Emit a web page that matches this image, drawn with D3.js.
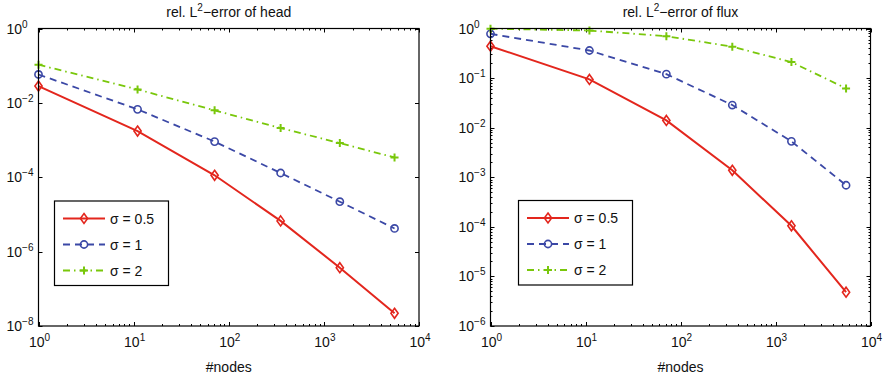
<!DOCTYPE html>
<html>
<head>
<meta charset="utf-8">
<script src="https://cdn.jsdelivr.net/npm/d3@7"></script>
<style>
  html, body { margin: 0; padding: 0; background: #fff; }
  svg { display: block; font-family: "Liberation Sans", Arial, Helvetica, sans-serif; }
</style>
</head>
<body>
<svg id="chart" width="886" height="380"></svg>
<script>
// Number of nodes on each refinement level
const nodes = [1, 11, 71, 351, 1471, 5531];

// Relative L2 error of the head
const headSigma05 = [0.0283, 1.75e-3, 1.13e-4, 6.7e-6, 3.7e-7, 2.2e-8];
const headSigma1  = [0.058, 6.7e-3, 9.1e-4, 1.3e-4, 2.2e-5, 4.2e-6];
const headSigma2  = [0.106, 0.023, 6.3e-3, 2.1e-3, 8.3e-4, 3.4e-4];

// Relative L2 error of the flux
const fluxSigma05 = [0.44, 0.094, 0.014, 1.38e-3, 1.05e-4, 4.8e-6];
const fluxSigma1  = [0.78, 0.36, 0.12, 0.0286, 5.3e-3, 6.9e-4];
const fluxSigma2  = [0.99, 0.91, 0.70, 0.43, 0.21, 0.062];

const seriesLabels = ["σ = 0.5", "σ = 1", "σ = 2"];
const xTickExponents = [0, 1, 2, 3, 4];
const headTickExponents = [0, -2, -4, -6, -8];
const fluxTickExponents = [0, -1, -2, -3, -4, -5, -6];

const styles = [
  { color: "#e3261d", dash: null, marker: "diamond", width: 2 },
  { color: "#3b48a6", dash: "7,5", marker: "circle", width: 1.8 },
  { color: "#79c70b", dash: "7,4,1.5,4", marker: "plus", width: 1.8 }
];

const panels = [
  {
    title: "head",
    left: 38.5, right: 419, top: 28.5, bottom: 326,
    yDomain: [1e-8, 1], yTicks: headTickExponents, yMinor: false,
    series: [headSigma05, headSigma1, headSigma2],
    legend: { x: 54.5, y: 201 }
  },
  {
    title: "flux",
    left: 490.5, right: 870.5, top: 28.5, bottom: 326,
    yDomain: [1e-6, 1], yTicks: fluxTickExponents, yMinor: true,
    series: [fluxSigma05, fluxSigma1, fluxSigma2],
    legend: { x: 518.5, y: 200.5 }
  }
];

const svg = d3.select("#chart");
const minus = e => (e < 0 ? "\u2212" + (-e) : String(e));

function drawMarker(g, type, x, y, color) {
  if (type === "diamond") {
    g.append("path")
      .attr("d", `M${x},${y - 5}L${x + 3.6},${y}L${x},${y + 5}L${x - 3.6},${y}Z`)
      .attr("fill", "none").attr("stroke", color).attr("stroke-width", 1.6);
  } else if (type === "circle") {
    g.append("circle").attr("cx", x).attr("cy", y).attr("r", 3.6)
      .attr("fill", "none").attr("stroke", color).attr("stroke-width", 1.6);
  } else {
    g.append("path")
      .attr("d", `M${x - 4},${y}H${x + 4}M${x},${y - 4}V${y + 4}`)
      .attr("fill", "none").attr("stroke", color).attr("stroke-width", 2);
  }
}

panels.forEach(p => {
  const x = d3.scaleLog().domain([1, 1e4]).range([p.left, p.right]);
  const y = d3.scaleLog().domain(p.yDomain).range([p.bottom, p.top]);
  const g = svg.append("g");

  // Title with superscript
  const title = g.append("text")
    .attr("x", (p.left + p.right) / 2).attr("y", 17)
    .attr("text-anchor", "middle").attr("font-size", 14).attr("fill", "#111");
  title.append("tspan").text("rel. L");
  title.append("tspan").attr("dy", -6).attr("font-size", 10).text("2");
  title.append("tspan").attr("dy", 6).text("\u2212error of " + p.title);

  // X ticks: majors at decades, minors at 2..9
  const ticks = g.append("g").attr("stroke", "#000").attr("stroke-width", 1);
  for (let e = 0; e <= 4; e++) {
    const base = Math.pow(10, e);
    const xm = Math.round(x(base)) + 0.5;
    ticks.append("line").attr("x1", xm).attr("x2", xm).attr("y1", p.bottom).attr("y2", p.bottom - 4);
    ticks.append("line").attr("x1", xm).attr("x2", xm).attr("y1", p.top).attr("y2", p.top + 4);
    if (e < 4) {
      for (let k = 2; k <= 9; k++) {
        const xv = Math.round(x(base * k)) + 0.5;
        ticks.append("line").attr("x1", xv).attr("x2", xv).attr("y1", p.bottom).attr("y2", p.bottom - 2);
        ticks.append("line").attr("x1", xv).attr("x2", xv).attr("y1", p.top).attr("y2", p.top + 2);
      }
    }
  }

  // Y ticks
  p.yTicks.forEach(e => {
    const base = Math.pow(10, e);
    const yv = Math.round(y(base)) + 0.5;
    ticks.append("line").attr("x1", p.left).attr("x2", p.left + 4).attr("y1", yv).attr("y2", yv);
    ticks.append("line").attr("x1", p.right).attr("x2", p.right - 4).attr("y1", yv).attr("y2", yv);
    if (p.yMinor && base < p.yDomain[1]) {
      for (let k = 2; k <= 9; k++) {
        const ym = Math.round(y(base * k)) + 0.5;
        ticks.append("line").attr("x1", p.left).attr("x2", p.left + 2).attr("y1", ym).attr("y2", ym);
        ticks.append("line").attr("x1", p.right).attr("x2", p.right - 2).attr("y1", ym).attr("y2", ym);
      }
    }
  });

  // X tick labels
  xTickExponents.forEach(e => {
    const t = g.append("text").attr("x", x(Math.pow(10, e)) + 1).attr("y", 347)
      .attr("text-anchor", "middle").attr("font-size", 14).attr("fill", "#111");
    t.append("tspan").text("10");
    t.append("tspan").attr("dy", -6).attr("font-size", 10).text(minus(e));
  });

  // Y tick labels
  p.yTicks.forEach(e => {
    const t = g.append("text").attr("x", p.left - 32).attr("y", y(Math.pow(10, e)) + 5)
      .attr("font-size", 14).attr("fill", "#111");
    t.append("tspan").text("10");
    t.append("tspan").attr("dy", -6).attr("font-size", 10).text(minus(e));
  });

  // X axis label
  g.append("text").attr("x", (p.left + p.right) / 2).attr("y", 372)
    .attr("text-anchor", "middle").attr("font-size", 14).attr("fill", "#111").text("#nodes");

  // Data series
  const line = d3.line().x(d => x(d[0])).y(d => y(d[1]));
  p.series.forEach((vals, i) => {
    const s = styles[i];
    const pts = nodes.map((n, j) => [n, vals[j]]);
    g.append("path").datum(pts).attr("d", line)
      .attr("fill", "none").attr("stroke", s.color).attr("stroke-width", s.width)
      .attr("stroke-dasharray", s.dash);
    pts.forEach(d => drawMarker(g, s.marker, x(d[0]), y(d[1]), s.color));
  });

  // Axes box
  g.append("rect").attr("x", p.left).attr("y", p.top)
    .attr("width", p.right - p.left).attr("height", p.bottom - p.top)
    .attr("fill", "none").attr("stroke", "#000").attr("stroke-width", 1.2);

  // Legend
  const lg = g.append("g");
  lg.append("rect").attr("x", p.legend.x).attr("y", p.legend.y)
    .attr("width", 114).attr("height", 84.5)
    .attr("fill", "#fff").attr("stroke", "#000").attr("stroke-width", 1.2);
  seriesLabels.forEach((lab, i) => {
    const s = styles[i];
    const ly = p.legend.y + 17.5 + i * 26;
    const lx0 = p.legend.x + 8.5, lx1 = lx0 + 42;
    lg.append("line").attr("x1", lx0).attr("x2", lx1).attr("y1", ly).attr("y2", ly)
      .attr("stroke", s.color).attr("stroke-width", s.width).attr("stroke-dasharray", s.dash);
    drawMarker(lg, s.marker, (lx0 + lx1) / 2, ly, s.color);
    lg.append("text").attr("x", lx1 + 5).attr("y", ly + 5)
      .attr("font-size", 14).attr("fill", "#111").text(lab);
  });
});
</script>
</body>
</html>
